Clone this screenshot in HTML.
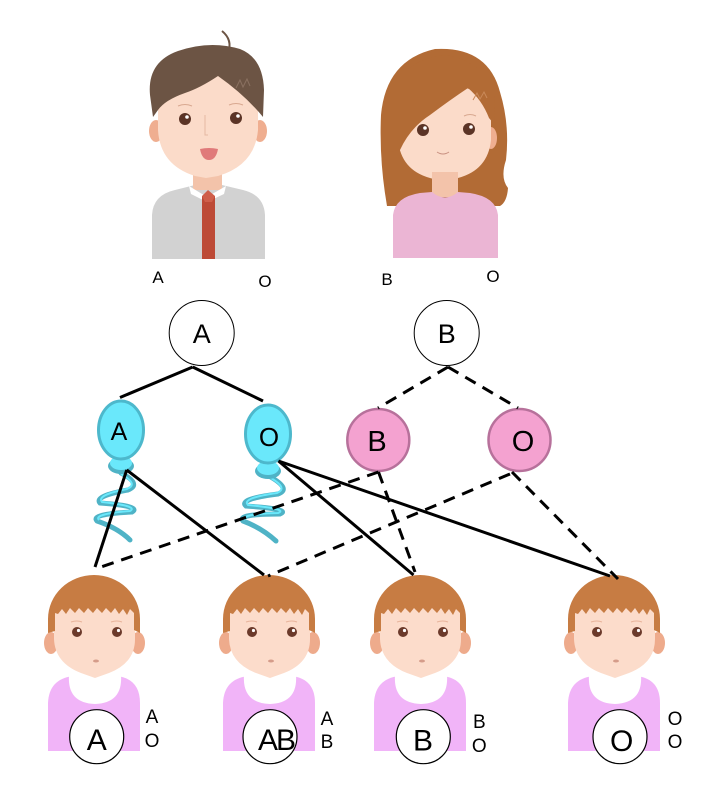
<!DOCTYPE html>
<html>
<head>
<meta charset="utf-8">
<style>
html,body{margin:0;padding:0;background:#fff;}
svg{display:block;}
text{font-family:"Liberation Sans",sans-serif;fill:#000;}
</style>
</head>
<body>
<svg width="728" height="791" viewBox="0 0 728 791" xmlns="http://www.w3.org/2000/svg">
<defs>
  <g id="kid">
    <path d="M -47 176 L -47 128 Q -46 104 -22 101 L 22 101 Q 45 104 45 128 L 45 176 Z" fill="#f1b4f8"/>
    <path d="M -26 100 L 26 100 Q 28 128 0 129 Q -28 128 -26 100 Z" fill="#ffffff"/>
    <ellipse cx="-44" cy="68" rx="7" ry="11" fill="#eeab8c"/>
    <ellipse cx="43" cy="68" rx="7" ry="11" fill="#eeab8c"/>
    <path d="M -41 26 L -41 64 Q -40 88 -14 98 L 0 103 L 14 98 Q 40 88 40 64 L 40 26 Z" fill="#fcdccb"/>
    <path d="M -47 58 L -47 44 A 46 44 0 0 1 45 44 L 45 58 L 39 55 L 39 38 L 35 34 L 32 40 L 28 34 L 24 39 L 20 33 L 16 38 L 11 33 L 7 38 L 2 33 L -2 38 L -7 33 L -11 38 L -16 33 L -20 38 L -25 33 L -29 39 L -33 34 L -37 39 L -40 38 L -40 56 Z" fill="#c77c43"/>
    <path d="M -24 47 Q -18 45 -13 47" stroke="#e8b49c" stroke-width="1" fill="none"/>
    <path d="M 16 47 Q 22 45 27 47" stroke="#e8b49c" stroke-width="1" fill="none"/>
    <circle cx="-18" cy="57" r="5" fill="#6b3a2b"/>
    <circle cx="-16.5" cy="55.5" r="1.6" fill="#fff"/>
    <circle cx="22" cy="57" r="5" fill="#6b3a2b"/>
    <circle cx="23.5" cy="55.5" r="1.6" fill="#fff"/>
    <ellipse cx="1" cy="86" rx="3" ry="1.5" fill="#d59c8a"/>
  </g>
</defs>

<!-- MAN -->
<g>
  <path d="M 152 259 L 152 215 Q 153 195 175 190 L 195 185 L 222 185 L 243 190 Q 264 195 265 215 L 265 259 Z" fill="#d2d2d2"/>
  <rect x="193" y="165" width="29" height="25" fill="#f3c3aa"/>
  <path d="M 189 186 L 207 197 L 226 186 L 224 194 L 207 202 L 191 194 Z" fill="#ffffff"/>
  <path d="M 202 196 L 215 196 L 215 259 L 202 259 Z" fill="#bd4a36"/>
  <path d="M 202 196 L 208 190 L 215 196 L 212 202 L 205 202 Z" fill="#cf5f4b"/>
  <ellipse cx="156" cy="131" rx="7" ry="11" fill="#efae90"/>
  <ellipse cx="260" cy="131" rx="7" ry="11" fill="#efae90"/>
  <path d="M 158 72 L 158 130 Q 160 165 195 176 L 206 178 L 218 176 Q 255 165 258 130 L 258 72 Z" fill="#fbdbc9"/>
  <path d="M 153 117 L 150 95 Q 147 62 178 51 Q 210 40 240 49 Q 263 58 264 90 L 263 117 Q 245 95 218 76 Q 200 88 185 93 Q 165 100 158 110 Z" fill="#6c5444"/>
  <path d="M 222 31 Q 233 40 228 53" stroke="#6c5444" stroke-width="2" fill="none"/>
  <path d="M 236 88 L 240 80 L 243 87 L 247 79 L 250 86" stroke="#8a7060" stroke-width="1" fill="none"/>
  <circle cx="185" cy="119" r="6" fill="#5b3426"/>
  <circle cx="187" cy="117" r="1.8" fill="#fff"/>
  <circle cx="236" cy="118" r="6" fill="#5b3426"/>
  <circle cx="238" cy="116" r="1.8" fill="#fff"/>
  <path d="M 178 106 Q 185 103 192 106" stroke="#d8a890" stroke-width="1" fill="none"/>
  <path d="M 229 105 Q 236 102 243 105" stroke="#d8a890" stroke-width="1" fill="none"/>
  <path d="M 205 115 L 205 135 L 208 135" stroke="#e4b8a2" stroke-width="1" fill="none"/>
  <path d="M 200 149 Q 209 147 218 149 Q 216 160 209 160 Q 202 160 200 149 Z" fill="#e07a7a"/>
</g>

<!-- WOMAN -->
<g>
  <path d="M 387 206 Q 379 160 381 115 Q 386 60 435 49 Q 488 46 500 92 Q 510 125 506 160 Q 500 178 508 188 Q 507 202 500 206 Z" fill="#b26b35"/>
  <ellipse cx="396" cy="137" rx="6" ry="11" fill="#efae90"/>
  <ellipse cx="491" cy="138" rx="6" ry="11" fill="#efae90"/>
  <path d="M 398 110 L 398 140 Q 401 170 430 178 L 444 182 L 458 178 Q 488 170 491 140 L 491 110 Q 480 85 445 85 Q 410 85 398 110 Z" fill="#fbdbc9"/>
  <path d="M 388 152 L 400 150 Q 410 128 430 115 Q 450 100 468 88 Q 482 100 489 118 L 494 124 L 495 95 Q 482 60 445 55 Q 400 60 388 100 Z" fill="#b26b35"/>
  <path d="M 473 100 L 477 93 L 480 99 L 484 92 L 487 98" stroke="#c98a5a" stroke-width="1" fill="none"/>
  <rect x="432" y="172" width="26" height="25" fill="#f3c3aa"/>
  <path d="M 393 258 L 393 215 Q 395 197 420 193 L 432 192 Q 445 203 458 192 L 470 193 Q 496 197 498 215 L 498 258 Z" fill="#ebb5d4"/>
  <circle cx="423" cy="130" r="6" fill="#5b3426"/>
  <circle cx="425" cy="128" r="1.8" fill="#fff"/>
  <circle cx="469" cy="129" r="6" fill="#5b3426"/>
  <circle cx="471" cy="127" r="1.8" fill="#fff"/>
  <path d="M 464 116 Q 470 113 476 116" stroke="#d8a890" stroke-width="1" fill="none"/>
  <path d="M 437 152 Q 443 156 449 152" stroke="#c89080" stroke-width="1" fill="none"/>
</g>

<!-- parent labels -->
<text x="158" y="283" font-size="17" text-anchor="middle">A</text>
<text x="265" y="287" font-size="17" text-anchor="middle">O</text>
<text x="387" y="285" font-size="17" text-anchor="middle">B</text>
<text x="493" y="282" font-size="17" text-anchor="middle">O</text>

<!-- top circles -->
<circle cx="201.7" cy="333" r="32.5" fill="#fff" stroke="#000" stroke-width="1"/>
<text x="201.7" y="343" font-size="27" text-anchor="middle">A</text>
<circle cx="446.7" cy="333" r="32.5" fill="#fff" stroke="#000" stroke-width="1"/>
<text x="446.7" y="343" font-size="27" text-anchor="middle">B</text>

<!-- sperm A -->
<g>
  <path d="M 121 473 Q 142 484 128 490 Q 94 496 100 503 Q 142 506 132 512 Q 90 514 97 521 Q 118 528 130 540" stroke="#4fb3c6" stroke-width="5" fill="none" stroke-linecap="round"/>
  <path d="M 121 474 Q 139 484 127 489 Q 96 495 102 502 Q 139 506 130 511 Q 93 514 99 520" stroke="#6ae8fb" stroke-width="2" fill="none"/>
  <ellipse cx="121" cy="466" rx="13" ry="8" fill="#4fb3c6"/>
  <ellipse cx="121" cy="463" rx="11" ry="7" fill="#6ae8fb"/>
  <ellipse cx="121" cy="430" rx="22.5" ry="29" fill="#6ae8fb" stroke="#4db8cc" stroke-width="3"/>
  <text x="119" y="440" font-size="25" text-anchor="middle">A</text>
</g>
<!-- sperm O -->
<g>
  <path d="M 269 476 Q 292 489 278 494 Q 238 499 246 506 Q 292 509 280 514 Q 236 514 243 521 Q 262 528 276 541" stroke="#4fb3c6" stroke-width="5" fill="none" stroke-linecap="round"/>
  <path d="M 269 477 Q 289 488 277 493 Q 241 498 248 505 Q 289 509 278 513 Q 240 514 245 520" stroke="#6ae8fb" stroke-width="2" fill="none"/>
  <ellipse cx="268" cy="471" rx="13" ry="8" fill="#4fb3c6"/>
  <ellipse cx="268" cy="468" rx="11" ry="7" fill="#6ae8fb"/>
  <ellipse cx="268" cy="434" rx="22.5" ry="29" fill="#6ae8fb" stroke="#4db8cc" stroke-width="3"/>
  <text x="269" y="446" font-size="26" text-anchor="middle">O</text>
</g>

<!-- pink eggs -->
<circle cx="378.3" cy="440" r="31" fill="#f4a2d0" stroke="#b7719b" stroke-width="2.5"/>
<text x="377" y="451" font-size="29" text-anchor="middle">B</text>
<circle cx="519.5" cy="440" r="31" fill="#f4a2d0" stroke="#b7719b" stroke-width="2.5"/>
<text x="523" y="451" font-size="29" text-anchor="middle">O</text>

<!-- children -->
<use href="#kid" transform="translate(95,575)"/>
<use href="#kid" transform="translate(270,575)"/>
<use href="#kid" transform="translate(421,575)"/>
<use href="#kid" transform="translate(615,575)"/>

<!-- connectors -->
<g stroke="#000" stroke-width="3" fill="none">
  <line x1="192.7" y1="367" x2="120" y2="397.5"/>
  <line x1="192.7" y1="367" x2="263" y2="401"/>
  <line x1="126.7" y1="470" x2="95" y2="567"/>
  <line x1="126.7" y1="470" x2="264" y2="575"/>
  <line x1="278.5" y1="461" x2="413.5" y2="575"/>
  <line x1="278.5" y1="461" x2="610" y2="576"/>
</g>
<g stroke="#000" stroke-width="3" fill="none" stroke-dasharray="12 8">
  <line x1="448" y1="367" x2="378" y2="408"/>
  <line x1="448" y1="367" x2="518" y2="408"/>
  <line x1="378.5" y1="472" x2="101" y2="567"/>
  <line x1="378.5" y1="472" x2="415" y2="572"/>
  <line x1="510" y1="474" x2="268" y2="576"/>
  <line x1="512" y1="472" x2="618" y2="579"/>
</g>

<!-- child circles -->
<circle cx="96.7" cy="736.7" r="27" fill="#fff" stroke="#000" stroke-width="1.2"/>
<text x="96.7" y="750" font-size="30" text-anchor="middle">A</text>
<circle cx="270" cy="736.7" r="27" fill="#fff" stroke="#000" stroke-width="1.2"/>
<text x="258" y="750" font-size="30" letter-spacing="-2">AB</text>
<circle cx="423.3" cy="736.7" r="27" fill="#fff" stroke="#000" stroke-width="1.2"/>
<text x="423" y="750.5" font-size="30" text-anchor="middle">B</text>
<circle cx="620" cy="736.7" r="27" fill="#fff" stroke="#000" stroke-width="1.2"/>
<text x="621.7" y="751" font-size="30" text-anchor="middle">O</text>

<!-- child side labels -->
<text x="152" y="723" font-size="19" text-anchor="middle">A</text>
<text x="152" y="747" font-size="19" text-anchor="middle">O</text>
<text x="327" y="725" font-size="19" text-anchor="middle">A</text>
<text x="327" y="748" font-size="19" text-anchor="middle">B</text>
<text x="479.3" y="728" font-size="19" text-anchor="middle">B</text>
<text x="479.3" y="752" font-size="19" text-anchor="middle">O</text>
<text x="675" y="725" font-size="19" text-anchor="middle">O</text>
<text x="675" y="748" font-size="19" text-anchor="middle">O</text>
</svg>
</body>
</html>
